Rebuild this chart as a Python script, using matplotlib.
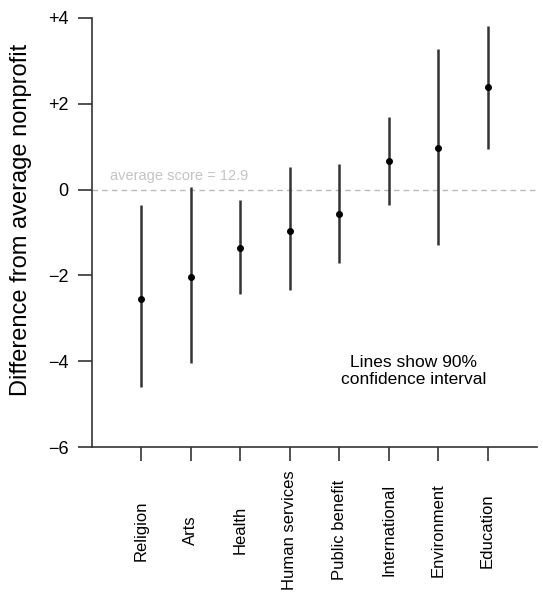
"""difference of nonprofit scores from the average, by sector
"""

import numpy as np
import matplotlib.pyplot as plt

plt.rcParams['font.family'] = ['Liberation Sans', 'DejaVu Sans']

sectors = ['Religion', 'Arts', 'Health', 'Human services', 'Public benefit',
           'International', 'Environment', 'Education']
estimate = [-2.55, -2.04, -1.35, -0.96, -0.57, 0.66, 0.96, 2.38]
ci_low = [-4.59, -4.05, -2.43, -2.34, -1.72, -0.36, -1.29, 0.94]
ci_high = [-0.36, 0.05, -0.24, 0.52, 0.60, 1.70, 3.27, 3.82]
average_score = 12.9

fig = plt.figure(figsize=(5.43, 5.96), dpi=100)
ax = fig.add_axes([92 / 543, 1 - 447 / 596, (537 - 92) / 543, (447 - 18) / 596])

x = np.arange(len(sectors))
ax.vlines(x, ci_low, ci_high, color='#333333', linewidth=1.8)
ax.plot(x, estimate, 'o', color='black', markersize=4)

ax.axhline(0, color='#bbbbbb', linestyle=(0, (4, 3)), linewidth=1, zorder=0)
ax.text(-0.63, 0.32, 'average score = {}'.format(average_score),
        color='#c4c4c4', fontsize=10.5, ha='left', va='center')
ax.text(5.5, -4.23, 'Lines show 90%\nconfidence interval', fontsize=12.5,
        ha='center', va='center', linespacing=1.15)

ax.set_xlim(-1, 8)
ax.set_ylim(-6, 4)
ax.set_yticks([-6, -4, -2, 0, 2, 4])
ax.set_yticklabels(['\u22126', '\u22124', '\u22122', '0', '+2', '+4'], fontsize=13)
ax.set_xticks(x)
ax.set_xticklabels(sectors, rotation=90, fontsize=12, va='center')
ax.set_ylabel('Difference from average nonprofit', fontsize=17)
ax.yaxis.set_label_coords(-0.135, 0.53)

for side in ['top', 'right']:
    ax.spines[side].set_visible(False)
for side in ['left', 'bottom']:
    ax.spines[side].set_color('#333333')
    ax.spines[side].set_linewidth(1.2)
ax.tick_params(axis='both', length=10, width=1.2, color='#333333')
ax.tick_params(axis='y', pad=7)
ax.tick_params(axis='x', pad=50)

fig.savefig('out.png')
